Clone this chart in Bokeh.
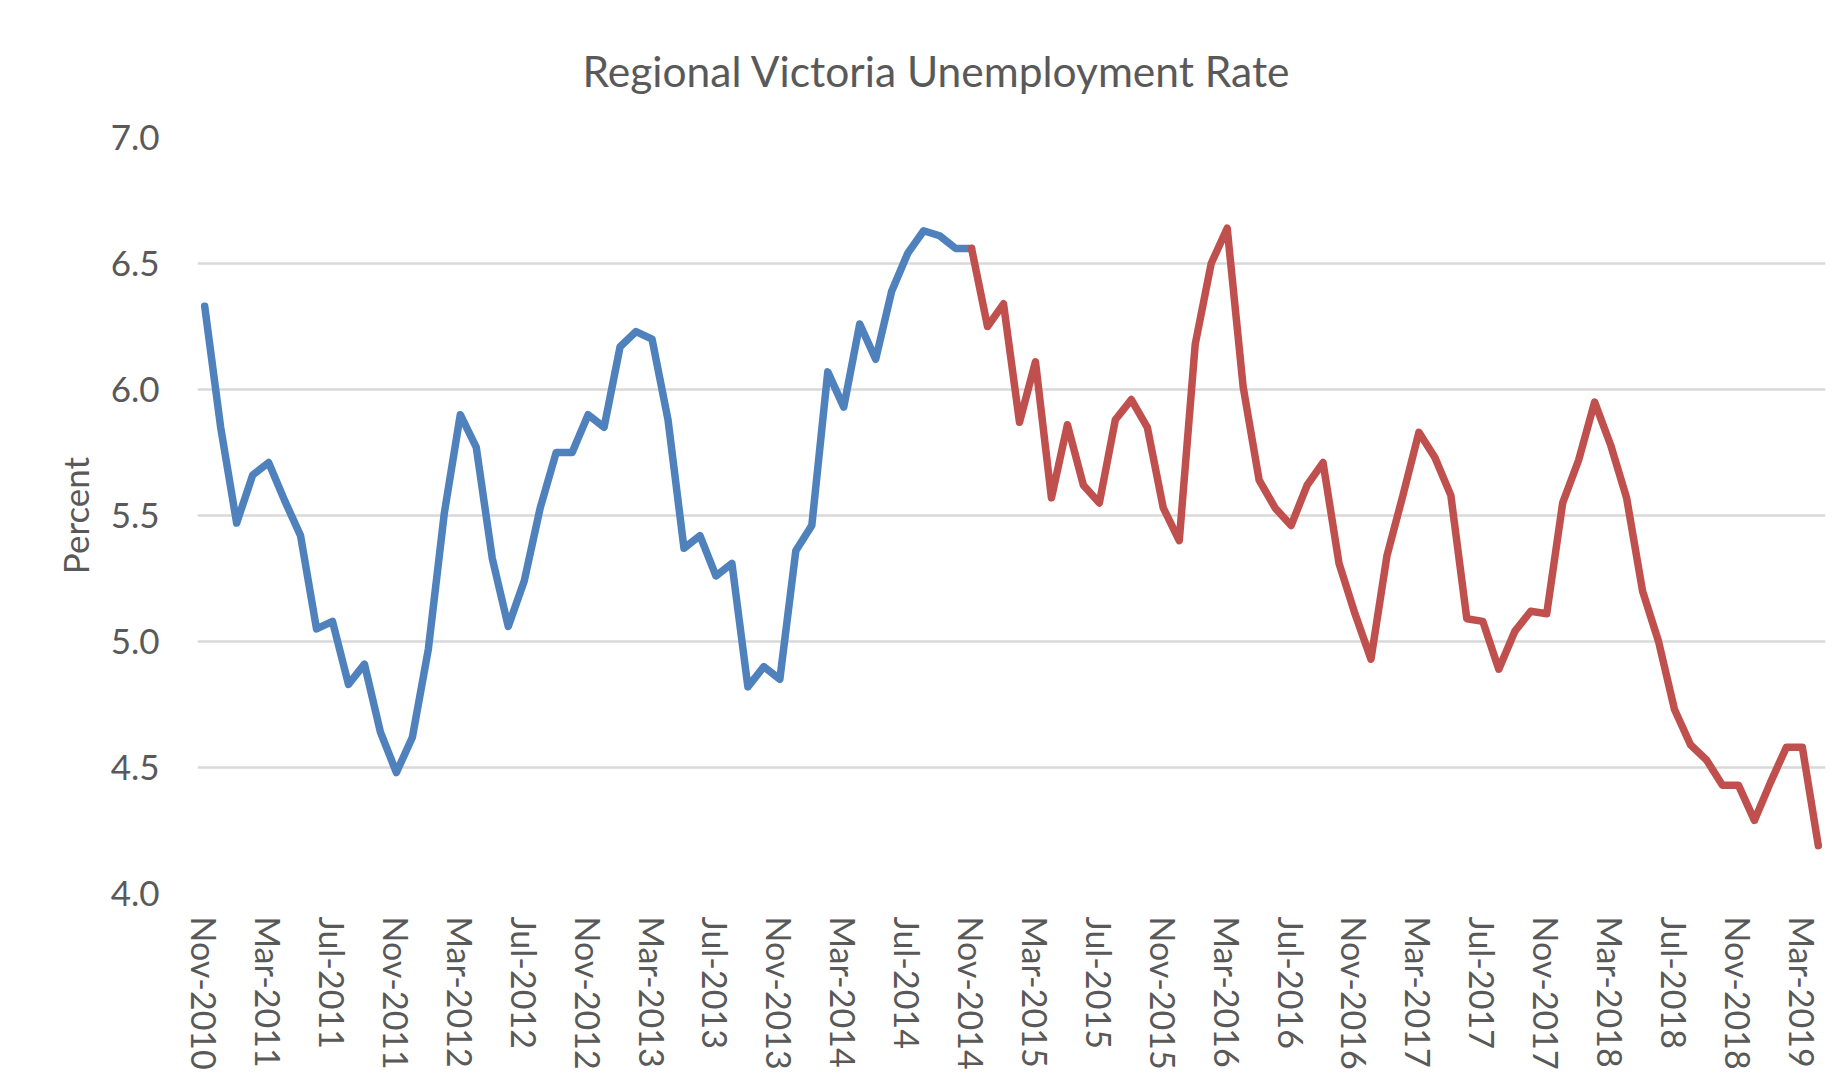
import pandas as pd
from bokeh.plotting import figure
from bokeh.models import FixedTicker, ColumnDataSource, PrintfTickFormatter
from bokeh.embed import file_html
from bokeh.resources import INLINE

# ---------------- data ----------------
chart_title = "Regional Victoria Unemployment Rate"
y_axis_label = "Percent"
first_month = "2010-11"
split_label = "Nov-2014"   # series colour changes here

rate = [
    6.33, 5.85, 5.47, 5.66, 5.71, 5.56, 5.42, 5.05, 5.08, 4.83,
    4.91, 4.64, 4.48, 4.62, 4.97, 5.51, 5.90, 5.77, 5.33, 5.06,
    5.24, 5.53, 5.75, 5.75, 5.90, 5.85, 6.17, 6.23, 6.20, 5.88,
    5.37, 5.42, 5.26, 5.31, 4.82, 4.90, 4.85, 5.36, 5.46, 6.07,
    5.93, 6.26, 6.12, 6.39, 6.54, 6.63, 6.61, 6.56, 6.56, 6.25,
    6.34, 5.87, 6.11, 5.57, 5.86, 5.62, 5.55, 5.88, 5.96, 5.85,
    5.53, 5.40, 6.18, 6.50, 6.64, 6.01, 5.64, 5.53, 5.46, 5.62,
    5.71, 5.31, 5.11, 4.93, 5.34, 5.58, 5.83, 5.73, 5.58, 5.09,
    5.08, 4.89, 5.04, 5.12, 5.11, 5.55, 5.72, 5.95, 5.78, 5.57,
    5.20, 5.00, 4.73, 4.59, 4.53, 4.43, 4.43, 4.29, 4.44, 4.58,
    4.58, 4.19,
]

tick_labels = [
    "Nov-2010", "Mar-2011", "Jul-2011", "Nov-2011", "Mar-2012", "Jul-2012",
    "Nov-2012", "Mar-2013", "Jul-2013", "Nov-2013", "Mar-2014", "Jul-2014",
    "Nov-2014", "Mar-2015", "Jul-2015", "Nov-2015", "Mar-2016", "Jul-2016",
    "Nov-2016", "Mar-2017", "Jul-2017", "Nov-2017", "Mar-2018", "Jul-2018",
    "Nov-2018", "Mar-2019",
]

y_ticks = [4.0, 4.5, 5.0, 5.5, 6.0, 6.5, 7.0]

# ---------------- derived ----------------
months = list(pd.period_range(first_month, periods=len(rate), freq="M").strftime("%b-%Y"))
idx = list(range(len(months)))
split = months.index(split_label)

src_old = ColumnDataSource(dict(x=idx[:split + 1], y=rate[:split + 1]))
src_new = ColumnDataSource(dict(x=idx[split:], y=rate[split:]))

tick_pos = [months.index(t) for t in tick_labels]

FONT = "Lato"
TXT = "#595959"

p = figure(
    frame_width=1628, frame_height=756,
    min_border_left=197, min_border_right=20, min_border_top=136, min_border_bottom=197,
    x_range=(-0.45, len(rate) - 1 + 0.45), y_range=(4.0, 7.0),
    output_backend="svg", toolbar_location=None,
    background_fill_color="white", border_fill_color="white",
)
p.outline_line_color = None

p.line("x", "y", source=src_old, line_color="#4F81BD", line_width=7.5,
       line_join="round", line_cap="round")
p.line("x", "y", source=src_new, line_color="#C0504D", line_width=7.5,
       line_join="round", line_cap="round")

# title
p.title.text = chart_title
p.title.align = "left"
p.title.offset = 385
p.title.standoff = 84
p.title.text_line_height = 0.7
p.title.text_font = FONT
p.title.text_font_size = "42.5px"
p.title.text_font_style = "normal"
p.title.text_color = TXT

# axes
p.xaxis.ticker = FixedTicker(ticks=tick_pos)
p.xaxis.major_label_overrides = {pos: lab for pos, lab in zip(tick_pos, tick_labels)}
p.xaxis.major_label_orientation = "vertical"
p.xaxis.major_label_standoff = 17
p.xaxis.axis_line_color = None
p.xaxis.major_tick_line_color = None
p.xaxis.minor_tick_line_color = None
p.xaxis.major_label_text_font = FONT
p.xaxis.major_label_text_font_size = "34px"
p.xaxis.major_label_text_color = TXT

p.yaxis.ticker = FixedTicker(ticks=y_ticks)
p.yaxis.formatter = PrintfTickFormatter(format="%.1f")
p.yaxis.major_label_standoff = 32
p.yaxis.axis_line_color = None
p.yaxis.major_tick_line_color = None
p.yaxis.minor_tick_line_color = None
p.yaxis.major_label_text_font = FONT
p.yaxis.major_label_text_font_size = "35px"
p.yaxis.major_label_text_color = TXT
p.yaxis.axis_label = y_axis_label
p.yaxis.axis_label_text_font = FONT
p.yaxis.axis_label_text_font_size = "35px"
p.yaxis.axis_label_text_font_style = "normal"
p.yaxis.axis_label_text_color = TXT
p.yaxis.axis_label_standoff = 12

p.xgrid.grid_line_color = None
p.ygrid.ticker = FixedTicker(ticks=y_ticks)
p.ygrid.grid_line_color = "#D9D9D9"
p.ygrid.grid_line_width = 2.5

open("out.html", "w").write(file_html(p, INLINE))
